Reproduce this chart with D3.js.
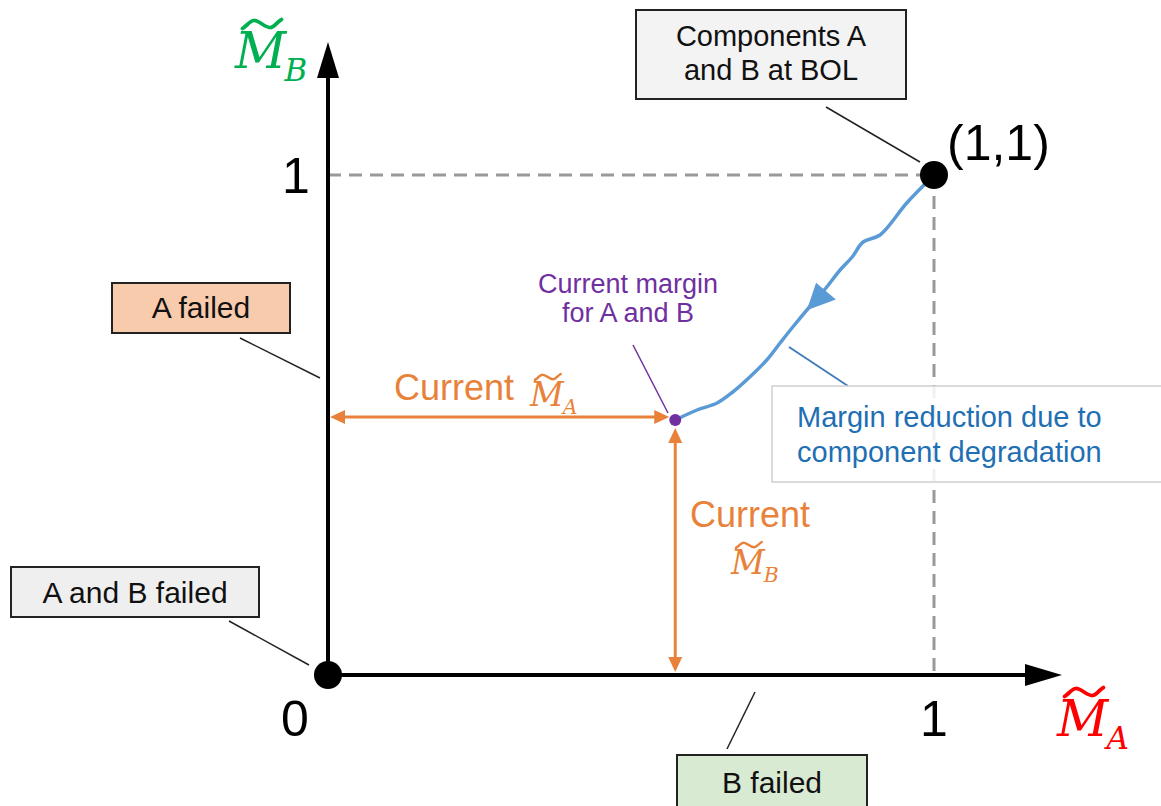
<!DOCTYPE html>
<html><head><meta charset="utf-8">
<script src="https://cdn.jsdelivr.net/npm/d3@7"></script>
<style>body{margin:0;background:#fff}svg{display:block}</style>
</head><body>
<script>
// ---- data ----
const tickLabels = ["0", "1"];
const tickValues = [0, 1];
const curveX = [1, 0.955, 0.911, 0.883, 0.865, 0.845, 0.823, 0.800, 0.767, 0.746, 0.724, 0.696, 0.668, 0.642, 0.609, 0.573];
const curveY = [1, 0.944, 0.880, 0.866, 0.836, 0.810, 0.776, 0.744, 0.696, 0.664, 0.630, 0.596, 0.566, 0.544, 0.530, 0.510];
const currentMargin = [0.573, 0.51];
const bolPoint = [1, 1];
const origin = [0, 0];

const W = 1161, H = 806;
const svg = d3.select("body").append("svg").attr("width", W).attr("height", H);
const x = d3.scaleLinear().domain([0, 1]).range([328, 934]);
const y = d3.scaleLinear().domain([0, 1]).range([675, 175]);
const SANS = "'Liberation Sans', Arial, sans-serif";
const MATH = "'DejaVu Serif', serif";

// dashed guides
svg.append("line").attr("x1", x(0)).attr("x2", x(1)).attr("y1", y(1)).attr("y2", y(1))
  .attr("stroke", "#999").attr("stroke-width", 3).attr("stroke-dasharray", "13,8");
svg.append("line").attr("x1", x(1)).attr("x2", x(1)).attr("y1", y(1)).attr("y2", y(0))
  .attr("stroke", "#999").attr("stroke-width", 3).attr("stroke-dasharray", "13,8");

// axes
const xEnd = x.invert(1062), yEnd = y.invert(42);
svg.append("line").attr("x1", x(0)).attr("x2", x(xEnd) - 20).attr("y1", y(0)).attr("y2", y(0))
  .attr("stroke", "#000").attr("stroke-width", 4);
svg.append("line").attr("x1", x(0)).attr("x2", x(0)).attr("y1", y(0)).attr("y2", y(yEnd) + 20)
  .attr("stroke", "#000").attr("stroke-width", 4);
svg.append("path").attr("d", `M${x(xEnd)},${y(0)} L${x(xEnd) - 37},${y(0) - 11} L${x(xEnd) - 37},${y(0) + 11} Z`).attr("fill", "#000");
svg.append("path").attr("d", `M${x(0)},${y(yEnd)} L${x(0) - 11},${y(yEnd) + 36} L${x(0) + 11},${y(yEnd) + 36} Z`).attr("fill", "#000");

// tick labels
svg.selectAll(".xt").data(tickValues).enter().append("text")
  .attr("x", (d, i) => i === 0 ? x(d) - 33 : x(d)).attr("y", 736)
  .attr("text-anchor", "middle").attr("font-family", SANS).attr("font-size", 50)
  .text((d, i) => tickLabels[i]);
svg.append("text").attr("x", x(0) - 32).attr("y", y(1) + 18)
  .attr("text-anchor", "middle").attr("font-family", SANS).attr("font-size", 50)
  .text(tickLabels[1]);

// math label helper: M with wide tilde and subscript
const tildeLine = d3.line().curve(d3.curveBasis);
function mLabel(px, py, size, sub, color) {
  const g = svg.append("g").attr("fill", color).attr("font-family", MATH).attr("font-style", "italic");
  g.append("text").attr("x", px).attr("y", py).attr("font-size", size).text("M");
  const w = size * 0.78, h = size * 0.2, cx = px + size * 0.54, cy = py - size * 0.88;
  const tp = [[-0.5, 0.45], [-0.38, 0.1], [-0.22, -0.55], [0, 0], [0.22, 0.55], [0.38, -0.1], [0.5, -0.45]]
    .map(([a, b]) => [cx + a * w, cy + b * h]);
  g.append("path").attr("d", tildeLine(tp)).attr("fill", "none").attr("stroke", color)
    .attr("stroke-width", size * 0.075).attr("stroke-linecap", "round");
  g.append("text").attr("x", px + size * 0.99).attr("y", py + size * 0.25).attr("font-size", size * 0.62).text(sub);
}
mLabel(235, 68, 50, "B", "#00b050");
mLabel(1057, 736, 50, "A", "#ff0000");

// degradation curve
const pts = curveX.map((v, i) => [x(v), y(curveY[i])]);
svg.append("path").attr("d", d3.line().curve(d3.curveCatmullRom)(pts))
  .attr("fill", "none").attr("stroke", "#5b9bd5").attr("stroke-width", 3.5);
// arrow on curve, pointing toward the current point
const p7 = pts[7], p8 = pts[8], p6 = pts[6];
const tip = [p7[0] + 0.3 * (p8[0] - p7[0]), p7[1] + 0.3 * (p8[1] - p7[1])];
const ddx = p8[0] - p6[0], ddy = p8[1] - p6[1], DL = Math.hypot(ddx, ddy);
const ux = ddx / DL, uy = ddy / DL;
const base = [tip[0] - 25 * ux + 3, tip[1] - 25 * uy];
svg.append("path").attr("d", `M${tip[0]},${tip[1]} L${base[0] - 13 * uy},${base[1] + 13 * ux} L${base[0] + 13 * uy},${base[1] - 13 * ux} Z`)
  .attr("fill", "#5b9bd5");

// orange double arrows
const OR = "#e8823a";
function dblArrow(x1, y1, x2, y2) {
  const L = Math.hypot(x2 - x1, y2 - y1), ux = (x2 - x1) / L, uy = (y2 - y1) / L;
  svg.append("line").attr("x1", x1 + ux * 8).attr("y1", y1 + uy * 8).attr("x2", x2 - ux * 8).attr("y2", y2 - uy * 8)
    .attr("stroke", OR).attr("stroke-width", 3);
  [[x1, y1, -1], [x2, y2, 1]].forEach(([px, py, s]) => {
    const bx = px - s * ux * 15, by = py - s * uy * 15;
    svg.append("path").attr("d", `M${px},${py} L${bx - uy * 7},${by + ux * 7} L${bx + uy * 7},${by - ux * 7} Z`).attr("fill", OR);
  });
}
dblArrow(x(0) + 2, y(currentMargin[1]) - 3, x(currentMargin[0]) - 6, y(currentMargin[1]) - 3);
dblArrow(x(currentMargin[0]), y(currentMargin[1]) + 8, x(currentMargin[0]), y(0) - 3);

// orange labels
svg.append("text").attr("x", 394).attr("y", 400).attr("font-family", SANS).attr("font-size", 36).attr("fill", OR).text("Current");
mLabel(530, 406, 33, "A", OR);
svg.append("text").attr("x", 690).attr("y", 527).attr("font-family", SANS).attr("font-size", 36).attr("fill", OR).text("Current");
mLabel(731, 574, 33, "B", OR);

// current point + purple label
const PU = "#7030a0";
svg.append("line").attr("x1", 633).attr("y1", 345).attr("x2", 668).attr("y2", 413).attr("stroke", PU).attr("stroke-width", 1.5);
svg.append("circle").attr("cx", x(currentMargin[0])).attr("cy", y(currentMargin[1])).attr("r", 6).attr("fill", PU);
svg.append("text").attr("x", 628).attr("y", 293).attr("text-anchor", "middle").attr("font-family", SANS).attr("font-size", 27).attr("fill", PU).text("Current margin");
svg.append("text").attr("x", 628).attr("y", 322).attr("text-anchor", "middle").attr("font-family", SANS).attr("font-size", 27).attr("fill", PU).text("for A and B");

// margin reduction box
svg.append("line").attr("x1", 789).attr("y1", 347).attr("x2", 848).attr("y2", 386).attr("stroke", "#3d7ab8").attr("stroke-width", 1.8);
svg.append("rect").attr("x", 772).attr("y", 386).attr("width", 400).attr("height", 96).attr("fill", "#fff").attr("fill-opacity", 0.85).attr("stroke", "#d0d0d0").attr("stroke-width", 1.5);
svg.append("text").attr("x", 797).attr("y", 427).attr("font-family", SANS).attr("font-size", 29).attr("fill", "#1f6fb4").text("Margin reduction due to");
svg.append("text").attr("x", 797).attr("y", 462).attr("font-family", SANS).attr("font-size", 29).attr("fill", "#1f6fb4").text("component degradation");

// black points
svg.append("circle").attr("cx", x(bolPoint[0])).attr("cy", y(bolPoint[1])).attr("r", 14).attr("fill", "#000");
svg.append("circle").attr("cx", x(origin[0])).attr("cy", y(origin[1])).attr("r", 14).attr("fill", "#000");
svg.append("text").attr("x", 947).attr("y", 160).attr("font-family", SANS).attr("font-size", 50).text("(1,1)");

// callout boxes
function callout(bx, by, bw, bh, fill, lines, fs, lx1, ly1, lx2, ly2) {
  svg.append("line").attr("x1", lx1).attr("y1", ly1).attr("x2", lx2).attr("y2", ly2).attr("stroke", "#222").attr("stroke-width", 1.5);
  svg.append("rect").attr("x", bx).attr("y", by).attr("width", bw).attr("height", bh).attr("fill", fill).attr("stroke", "#222").attr("stroke-width", 2);
  lines.forEach((t) => svg.append("text").attr("x", bx + bw / 2).attr("y", t[1]).attr("text-anchor", "middle")
    .attr("font-family", SANS).attr("font-size", fs).attr("fill", "#111").text(t[0]));
}
callout(636, 10, 270, 89, "#f3f3f3", [["Components A", 46], ["and B at BOL", 80]], 29, 826, 107, 920, 162);
callout(112, 283, 178, 50, "#f8cbad", [["A failed", 318]], 30, 240, 338, 320, 378);
callout(11, 567, 248, 50, "#efefef", [["A and B failed", 603]], 30, 229, 621, 309, 665);
callout(677, 755, 190, 60, "#d9ead3", [["B failed", 793]], 30, 755, 692, 727, 749);
</script>
</body></html>
